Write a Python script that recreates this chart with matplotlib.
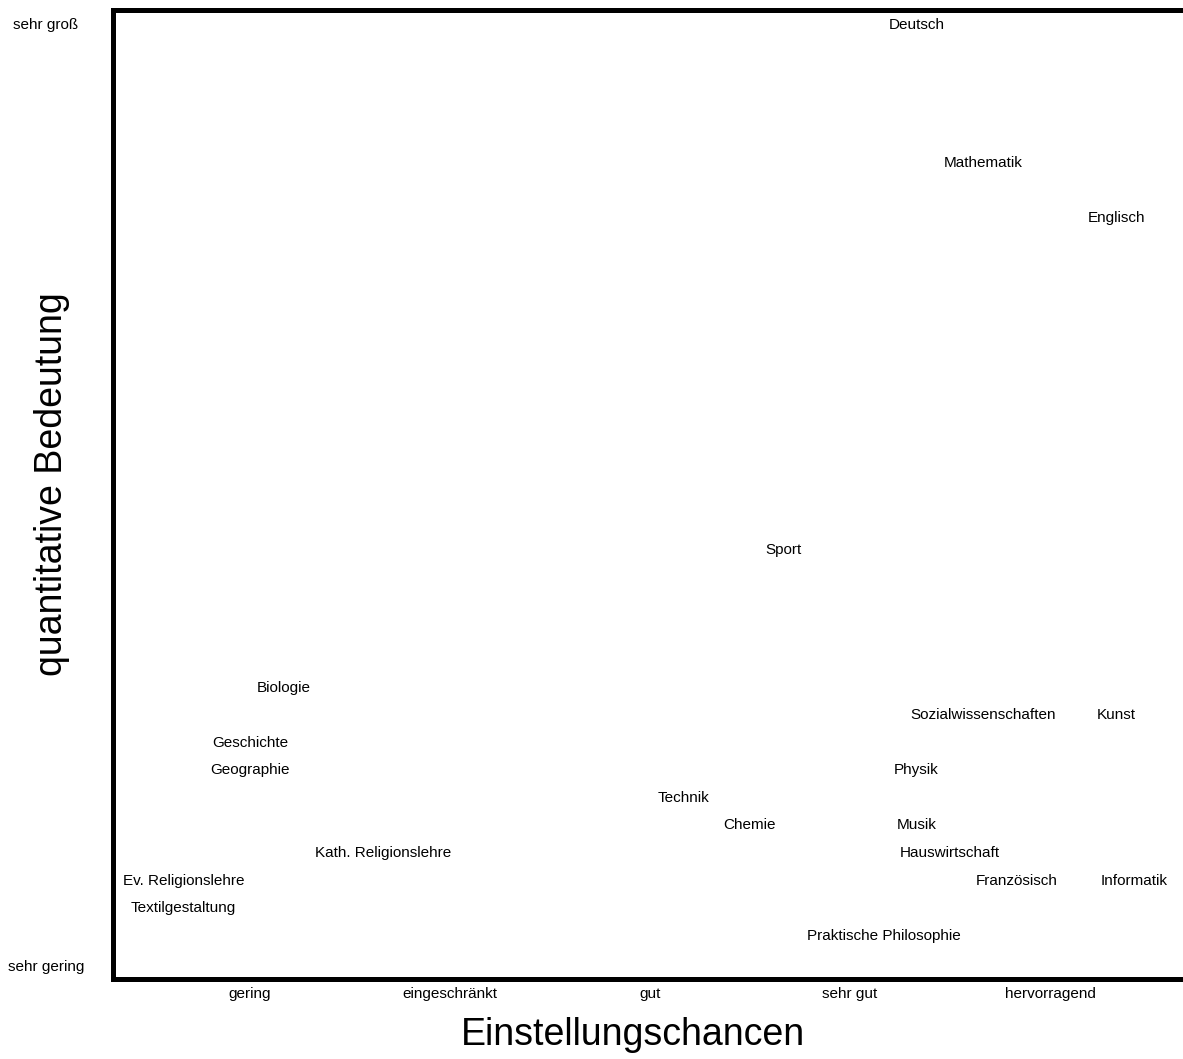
import matplotlib
matplotlib.use("Agg")
import matplotlib.pyplot as plt

plt.rcParams['font.family'] = ['Liberation Sans', 'DejaVu Sans']

subjects = ["Deutsch", "Mathematik", "Englisch", "Sport", "Biologie",
            "Sozialwissenschaften", "Kunst", "Geschichte", "Geographie", "Physik",
            "Technik", "Chemie", "Musik", "Kath. Religionslehre", "Hauswirtschaft",
            "Ev. Religionslehre", "Französisch", "Informatik", "Textilgestaltung",
            "Praktische Philosophie"]
einstellung = [4.333, 4.667, 5.333, 3.667, 1.167,
               4.667, 5.333, 1.0, 1.0, 4.333,
               3.167, 3.5, 4.333, 1.667, 4.5,
               0.667, 4.833, 5.42, 0.667,
               4.167]
bedeutung = [34, 29, 27, 15, 10,
             9, 9, 8, 7, 7,
             6, 5, 5, 4, 4,
             3, 3, 3, 2,
             1]

x_ticks = [1, 2, 3, 4, 5]
x_labels = ["gering", "eingeschränkt", "gut", "sehr gut", "hervorragend"]
y_ticks = [-0.12, 34]
y_labels = ["sehr gering", "sehr groß"]

fig = plt.figure(figsize=(11.83, 10.59), dpi=100)
ax = fig.add_axes([112.5/1183, 80.5/1059, 1 - 112.5/1183, 969/1059])

for name, xv, yv in zip(subjects, einstellung, bedeutung):
    ax.text(xv, yv, name, ha='center', va='center_baseline', fontsize=11)

ax.set_xlim(0.3125, 5.665)
ax.set_ylim(-0.6, 34.52)
ax.set_xticks(x_ticks)
ax.set_xticklabels(x_labels, fontsize=11)
ax.set_yticks(y_ticks)
ax.set_yticklabels(y_labels, fontsize=11, ha='center')
ax.tick_params(axis='x', length=0, pad=6)
ax.tick_params(axis='y', length=0, pad=47.9)
for lbl in ax.get_yticklabels():
    lbl.set_verticalalignment('center_baseline')

ax.spines['right'].set_visible(False)
for s in ['left', 'bottom', 'top']:
    ax.spines[s].set_linewidth(3.6)
    ax.spines[s].set_color('black')

fig.text(633/1183, 1 - 1031/1059, "Einstellungschancen", ha='center',
         va='center_baseline', fontsize=27)
fig.text(52/1183, 1 - 484/1059, "quantitative Bedeutung", ha='center',
         va='center', rotation=90, fontsize=27)

fig.savefig("out.png", dpi=100)
